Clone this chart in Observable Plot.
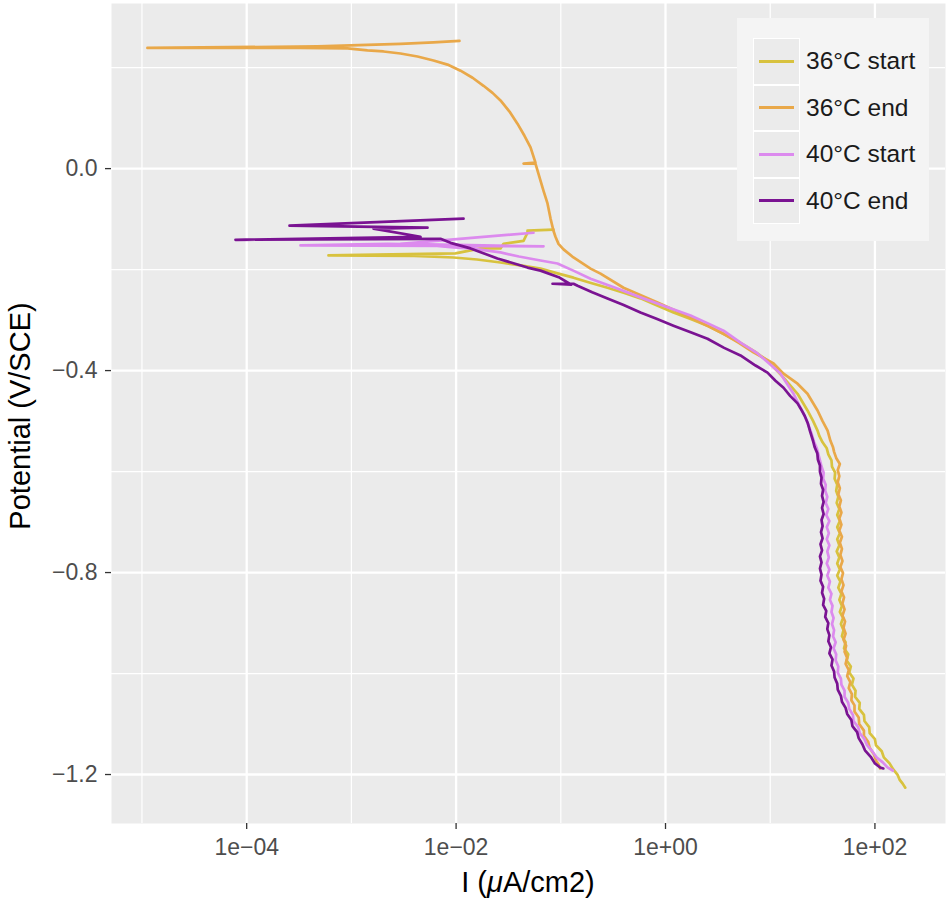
<!DOCTYPE html>
<html>
<head>
<meta charset="utf-8">
<script src="https://cdn.jsdelivr.net/npm/d3@7"></script>
<script src="https://cdn.jsdelivr.net/npm/@observablehq/plot@0.6"></script>
<style>
  body { margin: 0; background: #ffffff; font-family: "Liberation Sans", Arial, sans-serif; }
  #wrap { position: relative; width: 950px; height: 904px; }
  #legend { position: absolute; left: 737px; top: 18px; width: 192px; height: 223px; background: #f4f4f4; }
  .key { position: absolute; left: 16px; width: 47px; height: 46.5px; background: #ebebeb; box-sizing: border-box; border: 1.5px solid #ffffff; }
  .keyline { position: absolute; left: 5px; right: 5px; top: 50%; height: 3px; margin-top: -1.5px; }
  .ltext { position: absolute; left: 69px; font-size: 24.5px; color: #1a1a1a; line-height: 46.5px; white-space: nowrap; }
</style>
</head>
<body>
<div id="wrap"><div id="legend"></div></div>
<script>
// Series: pairs of [log10(I in µA/cm2), E in V/SCE], in sweep order
const s36start = [
  [2.29,-1.226],[2.265,-1.218],[2.235,-1.21],[2.215,-1.20],[2.175,-1.19],[2.14,-1.178],[2.085,-1.166],[2.065,-1.154],
  [2.01,-1.142],[2.00,-1.13],[1.95,-1.118],[1.945,-1.106],[1.90,-1.094],[1.895,-1.082],[1.85,-1.07],[1.855,-1.058],
  [1.81,-1.046],[1.815,-1.034],[1.78,-1.022],[1.795,-1.01],[1.755,-0.998],[1.77,-0.986],[1.73,-0.974],[1.745,-0.962],
  [1.705,-0.95],[1.72,-0.938],[1.685,-0.926],[1.70,-0.914],[1.675,-0.902],[1.695,-0.89],[1.665,-0.878],[1.685,-0.866],
  [1.66,-0.854],[1.68,-0.842],[1.65,-0.83],[1.67,-0.818],[1.64,-0.806],[1.665,-0.794],[1.64,-0.782],[1.66,-0.77],
  [1.635,-0.758],[1.66,-0.746],[1.64,-0.734],[1.665,-0.722],[1.64,-0.71],[1.665,-0.698],[1.64,-0.686],[1.66,-0.674],
  [1.635,-0.662],[1.65,-0.65],[1.63,-0.638],[1.64,-0.626],[1.615,-0.614],[1.62,-0.602],[1.59,-0.59],[1.585,-0.578],
  [1.555,-0.566],[1.54,-0.554],[1.50,-0.542],[1.47,-0.53],[1.452,-0.519],[1.41,-0.50],[1.356,-0.479],[1.261,-0.446],
  [1.127,-0.414],[1.05,-0.397],[0.974,-0.38],[0.85,-0.362],[0.716,-0.345],[0.56,-0.328],[0.401,-0.311],[0.24,-0.298],
  [0.076,-0.285],[-0.08,-0.271],[-0.239,-0.257],[-0.40,-0.246],[-0.554,-0.236],[-0.72,-0.226],[-0.879,-0.216],
  [-1.04,-0.207],[-1.194,-0.198],[-1.40,-0.191],[-1.576,-0.186],[-1.80,-0.18],[-2.025,-0.176],[-2.40,-0.173],[-3.219,-0.172],
  [-2.006,-0.168],[-1.862,-0.162],[-1.767,-0.158],[-1.576,-0.158],[-1.547,-0.149],[-1.356,-0.143],[-1.318,-0.127],
  [-1.318,-0.123],[-1.07,-0.121]
];
const s36end = [
  [2.05,-1.188],[2.035,-1.18],[2.01,-1.172],[1.99,-1.16],[1.95,-1.147],[1.935,-1.135],[1.895,-1.123],[1.895,-1.113],
  [1.85,-1.10],[1.845,-1.087],[1.805,-1.075],[1.805,-1.063],[1.775,-1.053],[1.78,-1.041],[1.75,-1.029],[1.765,-1.017],
  [1.735,-1.005],[1.75,-0.993],[1.72,-0.981],[1.735,-0.969],[1.71,-0.957],[1.725,-0.945],[1.70,-0.933],[1.72,-0.921],
  [1.70,-0.909],[1.715,-0.897],[1.69,-0.885],[1.71,-0.873],[1.69,-0.861],[1.705,-0.849],[1.68,-0.837],[1.70,-0.825],
  [1.68,-0.813],[1.695,-0.801],[1.67,-0.789],[1.69,-0.777],[1.67,-0.765],[1.685,-0.753],[1.665,-0.741],[1.685,-0.729],
  [1.66,-0.717],[1.68,-0.705],[1.66,-0.693],[1.68,-0.681],[1.66,-0.669],[1.675,-0.657],[1.65,-0.645],[1.665,-0.633],
  [1.645,-0.621],[1.66,-0.609],[1.645,-0.597],[1.665,-0.585],[1.63,-0.573],[1.61,-0.561],[1.60,-0.552],[1.575,-0.539],
  [1.548,-0.519],[1.50,-0.50],[1.452,-0.479],[1.356,-0.446],[1.261,-0.426],[1.127,-0.406],[1.032,-0.386],[0.84,-0.364],
  [0.70,-0.345],[0.554,-0.327],[0.239,-0.295],[-0.076,-0.265],[-0.401,-0.236],[-0.621,-0.208],[-0.716,-0.198],
  [-0.879,-0.176],[-0.974,-0.16],[-1.022,-0.149],[-1.051,-0.135],[-1.07,-0.123],[-1.098,-0.099],[-1.127,-0.069],
  [-1.165,-0.044],[-1.194,-0.024],[-1.242,0.01],[-1.356,0.01],[-1.242,0.012],[-1.289,0.042],[-1.347,0.065],
  [-1.414,0.089],[-1.49,0.113],[-1.576,0.135],[-1.652,0.15],[-1.738,0.164],[-1.843,0.18],[-1.958,0.194],
  [-2.082,0.206],[-2.216,0.214],[-2.369,0.222],[-2.531,0.228],[-2.693,0.232],[-2.846,0.234],[-3.037,0.238],
  [-3.486,0.239],[-4.948,0.239],[-3.324,0.242],[-2.531,0.247],[-2.216,0.25],[-1.968,0.253]
];
const s40start = [
  [2.17,-1.192],[2.12,-1.186],[2.075,-1.176],[2.015,-1.166],[1.975,-1.154],[1.925,-1.142],[1.90,-1.13],[1.855,-1.118],
  [1.84,-1.106],[1.795,-1.094],[1.79,-1.082],[1.755,-1.07],[1.745,-1.058],[1.71,-1.046],[1.71,-1.034],[1.68,-1.022],
  [1.675,-1.01],[1.645,-0.998],[1.65,-0.986],[1.625,-0.974],[1.63,-0.962],[1.605,-0.95],[1.625,-0.938],[1.60,-0.926],
  [1.61,-0.914],[1.59,-0.902],[1.605,-0.89],[1.585,-0.878],[1.595,-0.866],[1.57,-0.854],[1.585,-0.842],[1.555,-0.83],
  [1.57,-0.818],[1.545,-0.806],[1.565,-0.794],[1.54,-0.782],[1.56,-0.77],[1.545,-0.758],[1.565,-0.746],[1.54,-0.734],
  [1.56,-0.722],[1.54,-0.71],[1.565,-0.698],[1.535,-0.686],[1.555,-0.674],[1.53,-0.662],[1.545,-0.65],[1.525,-0.638],
  [1.53,-0.626],[1.505,-0.614],[1.51,-0.602],[1.49,-0.59],[1.475,-0.578],[1.46,-0.566],[1.445,-0.554],[1.42,-0.542],
  [1.385,-0.519],[1.35,-0.50],[1.318,-0.485],[1.27,-0.466],[1.223,-0.446],[1.16,-0.426],[1.098,-0.406],[0.99,-0.386],
  [0.879,-0.366],[0.72,-0.345],[0.554,-0.321],[0.40,-0.306],[0.239,-0.291],[0.00,-0.273],[-0.239,-0.255],
  [-0.48,-0.236],[-0.716,-0.218],[-0.87,-0.203],[-1.032,-0.188],[-1.194,-0.182],[-1.40,-0.174],[-1.576,-0.166],
  [-1.862,-0.158],[-2.025,-0.156],[-2.34,-0.150],[-2.655,-0.149],[-3.486,-0.152],[-1.165,-0.154],[-2.531,-0.149],
  [-1.261,-0.127]
];
const s40end = [
  [2.08,-1.188],[2.05,-1.186],[2.00,-1.178],[1.96,-1.165],[1.905,-1.152],[1.88,-1.14],[1.845,-1.128],[1.83,-1.116],
  [1.785,-1.104],[1.775,-1.092],[1.735,-1.08],[1.72,-1.068],[1.685,-1.056],[1.675,-1.044],[1.645,-1.032],[1.64,-1.02],
  [1.615,-1.008],[1.61,-0.996],[1.585,-0.984],[1.595,-0.972],[1.565,-0.96],[1.58,-0.948],[1.555,-0.936],[1.565,-0.924],
  [1.545,-0.912],[1.555,-0.90],[1.525,-0.888],[1.535,-0.876],[1.505,-0.864],[1.515,-0.852],[1.495,-0.84],[1.505,-0.828],
  [1.48,-0.816],[1.49,-0.804],[1.475,-0.792],[1.49,-0.78],[1.475,-0.768],[1.495,-0.756],[1.48,-0.744],[1.50,-0.732],
  [1.485,-0.72],[1.50,-0.708],[1.49,-0.696],[1.51,-0.684],[1.495,-0.672],[1.51,-0.66],[1.495,-0.648],[1.505,-0.636],
  [1.485,-0.624],[1.49,-0.612],[1.475,-0.60],[1.475,-0.588],[1.455,-0.576],[1.45,-0.564],[1.425,-0.552],[1.41,-0.54],
  [1.38,-0.52],[1.36,-0.505],[1.33,-0.49],[1.29,-0.475],[1.261,-0.465],[1.19,-0.45],[1.127,-0.434],[1.05,-0.42],
  [0.974,-0.404],[0.86,-0.39],[0.716,-0.37],[0.56,-0.355],[0.401,-0.337],[0.24,-0.324],[0.076,-0.311],[-0.08,-0.298],
  [-0.239,-0.285],[-0.40,-0.27],[-0.554,-0.257],[-0.70,-0.245],[-0.84,-0.232],[-0.879,-0.228],[-1.079,-0.228],
  [-0.90,-0.23],[-1.02,-0.215],[-1.194,-0.202],[-1.318,-0.196],[-1.605,-0.178],[-1.862,-0.158],[-2.053,-0.147],
  [-2.149,-0.139],[-4.107,-0.141],[-2.34,-0.135],[-2.789,-0.119],[-2.273,-0.117],[-3.591,-0.113],[-1.929,-0.099]
];

const seriesNames = ["36°C start", "36°C end", "40°C start", "40°C end"];
const seriesColors = ["#D8C23E", "#E9A849", "#DC8AEE", "#7A1392"];
const seriesData = [s36start, s36end, s40start, s40end];

const xTicks = [1e-4, 1e-2, 1, 1e2];
const xTickLabels = ["1e\u221204", "1e\u221202", "1e+00", "1e+02"];
const xMinor = [1e-5, 1e-3, 1e-1, 1e1];
const yTicks = [0, -0.4, -0.8, -1.2];
const yTickLabels = ["0.0", "\u22120.4", "\u22120.8", "\u22121.2"];
const yMinor = [0.2, -0.2, -0.6, -1.0];

const xLabelMap = new Map(xTicks.map((v, i) => [v, xTickLabels[i]]));
const yLabelMap = new Map(yTicks.map((v, i) => [v, yTickLabels[i]]));

const rows = seriesData.flatMap((pts, k) =>
  pts.map(([logI, E]) => ({ series: seriesNames[k], I: Math.pow(10, logI), E }))
);

const chart = Plot.plot({
  width: 950,
  height: 904,
  marginLeft: 111,
  marginRight: 5,
  marginTop: 3,
  marginBottom: 81,
  style: { fontFamily: "Liberation Sans, Arial, sans-serif", fontSize: "23px", background: "#ffffff", overflow: "visible" },
  x: { type: "log", domain: [Math.pow(10, -5.291), Math.pow(10, 2.674)] },
  y: { domain: [-1.297, 0.327] },
  color: { domain: seriesNames, range: seriesColors },
  marks: [
    Plot.frame({ fill: "#EBEBEB", stroke: null }),
    Plot.ruleX(xMinor, { stroke: "#ffffff", strokeWidth: 1.2 }),
    Plot.ruleY(yMinor, { stroke: "#ffffff", strokeWidth: 1.2 }),
    Plot.ruleX(xTicks, { stroke: "#ffffff", strokeWidth: 2.3 }),
    Plot.ruleY(yTicks, { stroke: "#ffffff", strokeWidth: 2.3 }),
    Plot.line(rows, { x: "I", y: "E", z: "series", stroke: "series", strokeWidth: 2.7, strokeLinejoin: "round", strokeLinecap: "round" }),
    Plot.axisX(xTicks, { tickFormat: d => xLabelMap.get(d), tickSize: 6, tickPadding: 9, label: null, fontSize: 23 }),
    Plot.axisY(yTicks, { tickFormat: d => yLabelMap.get(d), tickSize: 6, tickPadding: 8, label: null, fontSize: 23 })
  ]
});

document.getElementById("wrap").prepend(chart);

const svg = d3.select(chart);
svg.selectAll('g[aria-label="x-axis tick"], g[aria-label="y-axis tick"]').attr("stroke", "#333333").attr("stroke-width", 1.3);
svg.selectAll('g[aria-label="x-axis tick label"], g[aria-label="y-axis tick label"]').attr("fill", "#4D4D4D");

// Axis titles
const xt = svg.append("text")
  .attr("x", 528).attr("y", 892)
  .attr("text-anchor", "middle")
  .attr("font-size", 29).attr("fill", "#000");
xt.append("tspan").text("I (");
xt.append("tspan").attr("font-style", "italic").text("\u03BC");
xt.append("tspan").text("A/cm2)");

svg.append("text")
  .attr("transform", "translate(30,416) rotate(-90)")
  .attr("text-anchor", "middle")
  .attr("font-size", 29).attr("fill", "#000")
  .text("Potential (V/SCE)");

// Legend
const legend = document.getElementById("legend");
seriesNames.forEach((name, i) => {
  const top = 20 + i * 46.5;
  const key = document.createElement("div");
  key.className = "key";
  key.style.top = top + "px";
  const line = document.createElement("div");
  line.className = "keyline";
  line.style.background = seriesColors[i];
  key.appendChild(line);
  legend.appendChild(key);
  const t = document.createElement("div");
  t.className = "ltext";
  t.style.top = top + "px";
  t.textContent = name;
  legend.appendChild(t);
});
</script>
</body>
</html>
